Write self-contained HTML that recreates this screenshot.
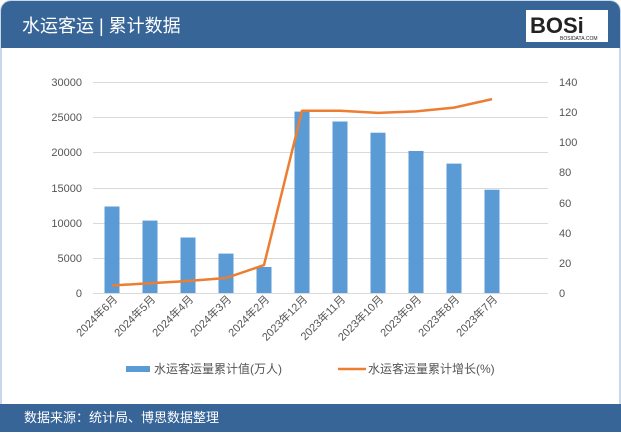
<!DOCTYPE html>
<html><head><meta charset="utf-8"><style>
body{margin:0;width:621px;height:432px;background:#fff;font-family:"Liberation Sans","Noto Sans CJK SC",sans-serif;overflow:hidden}
</style></head><body>
<svg width="621" height="432" viewBox="0 0 621 432" xmlns="http://www.w3.org/2000/svg" style="font-family:'Liberation Sans','Noto Sans CJK SC',sans-serif">
<rect x="1" y="1" width="619" height="430" rx="10" fill="#fff" stroke="#c8d8ea" stroke-width="2"/>
<path d="M1 48 V11 A10 10 0 0 1 11 1 H610 A10 10 0 0 1 620 11 V48 Z" fill="#376598"/>
<text x="22" y="32" font-size="18" fill="#fff">水运客运 | 累计数据</text>
<rect x="526" y="10" width="82" height="32" fill="#fff"/>
<text x="530" y="33" font-size="22" font-weight="bold" fill="#222">BOSi</text>
<text x="560" y="40" font-size="5" fill="#222">BOSIDATA.COM</text>
<rect x="0" y="404" width="621" height="28" fill="#376598"/>
<text x="24" y="422" font-size="13" fill="#fff">数据来源：统计局、博思数据整理</text>
<g stroke="#d9d9d9" stroke-width="1">
<line x1="93" y1="82.5" x2="548" y2="82.5"/><line x1="93" y1="117.5" x2="548" y2="117.5"/>
<line x1="93" y1="152.5" x2="548" y2="152.5"/><line x1="93" y1="188.5" x2="548" y2="188.5"/>
<line x1="93" y1="223.5" x2="548" y2="223.5"/><line x1="93" y1="258.5" x2="548" y2="258.5"/>
<line x1="93" y1="293.5" x2="548" y2="293.5"/>
</g>
<g font-size="11" fill="#555" text-anchor="end">
<text x="82" y="86">30000</text><text x="82" y="121">25000</text><text x="82" y="156">20000</text>
<text x="82" y="192">15000</text><text x="82" y="227">10000</text><text x="82" y="262">5000</text><text x="82" y="297">0</text>
</g>
<g font-size="11" fill="#555">
<text x="559" y="86">140</text><text x="559" y="116">120</text><text x="559" y="146">100</text>
<text x="559" y="176">80</text><text x="559" y="207">60</text><text x="559" y="237">40</text>
<text x="559" y="267">20</text><text x="559" y="297">0</text>
</g>
<g fill="#5b9bd5">
<rect x="104.5" y="206.5" width="15" height="86.5"/>
<rect x="142.5" y="220.6" width="15" height="72.4"/>
<rect x="180.5" y="237.5" width="15" height="55.5"/>
<rect x="218.5" y="253.6" width="15" height="39.4"/>
<rect x="256.5" y="267" width="15" height="26"/>
<rect x="294.5" y="111.6" width="15" height="181.4"/>
<rect x="332.5" y="121.5" width="15" height="171.5"/>
<rect x="370.5" y="132.7" width="15" height="160.3"/>
<rect x="408.5" y="151" width="15" height="142"/>
<rect x="446.5" y="163.6" width="15" height="129.4"/>
<rect x="484.5" y="189.7" width="15" height="103.3"/>
</g>
<polyline fill="none" stroke="#ed7d31" stroke-width="2.5" stroke-linejoin="round" points="112,285.5 150,283.2 188,281 226,278 264,265.1 302,110.7 340,110.7 378,112.9 416,111.4 454,107.6 492,99.1"/>
<g font-size="11" fill="#555" text-anchor="end">
<text transform="translate(118,300) rotate(-45)">2024年6月</text>
<text transform="translate(156,300) rotate(-45)">2024年5月</text>
<text transform="translate(194,300) rotate(-45)">2024年4月</text>
<text transform="translate(232,300) rotate(-45)">2024年3月</text>
<text transform="translate(270,300) rotate(-45)">2024年2月</text>
<text transform="translate(308,300) rotate(-45)">2023年12月</text>
<text transform="translate(346,300) rotate(-45)">2023年11月</text>
<text transform="translate(384,300) rotate(-45)">2023年10月</text>
<text transform="translate(422,300) rotate(-45)">2023年9月</text>
<text transform="translate(460,300) rotate(-45)">2023年8月</text>
<text transform="translate(498,300) rotate(-45)">2023年7月</text>
</g>
<rect x="126" y="366" width="24" height="6" fill="#5b9bd5"/>
<text x="154" y="373" font-size="12" fill="#555">水运客运量累计值(万人)</text>
<line x1="338" y1="369" x2="366" y2="369" stroke="#ed7d31" stroke-width="2.5"/>
<text x="368" y="373" font-size="12" fill="#555">水运客运量累计增长(%)</text>
</svg>
</body></html>
